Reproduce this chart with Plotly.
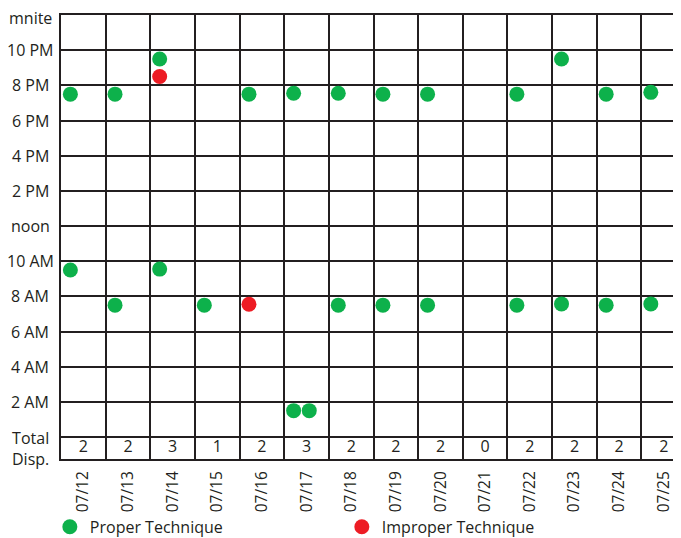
import plotly.graph_objects as go

# ---- data ----
dates = ["07/12", "07/13", "07/14", "07/15", "07/16", "07/17", "07/18",
         "07/19", "07/20", "07/21", "07/22", "07/23", "07/24", "07/25"]
totals = [2, 2, 3, 1, 2, 3, 2, 2, 2, 0, 2, 2, 2, 2]

# proper technique dispenses: date, time of day (hours), slot within day column
proper_dates = ["07/12", "07/12", "07/13", "07/13", "07/14", "07/14", "07/15",
                "07/16", "07/17", "07/17", "07/17", "07/18", "07/18", "07/19",
                "07/19", "07/20", "07/20", "07/22", "07/22", "07/23", "07/23",
                "07/24", "07/24", "07/25", "07/25"]
proper_times = [19.5, 9.5, 19.5, 7.5, 21.5, 9.55, 7.5,
                19.5, 19.55, 1.5, 1.5, 19.55, 7.5, 19.5,
                7.5, 19.5, 7.5, 19.5, 7.5, 21.5, 7.57,
                19.5, 7.5, 19.6, 7.57]
proper_slot = [0, 0, 0, 0, 0, 0, 0,
               0, 0, 0, 1, 0, 0, 0,
               0, 0, 0, 0, 0, 0, 0,
               0, 0, 0, 0]

improper_dates = ["07/14", "07/16"]
improper_times = [20.5, 7.55]
improper_slot = [0, 0]

y_tick_vals = [24, 22, 20, 18, 16, 14, 12, 10, 8, 6, 4, 2]
y_tick_text = ["mnite", "10 PM", "8 PM", "6 PM", "4 PM", "2 PM", "noon",
               "10 AM", "8 AM", "6 AM", "4 AM", "2 AM"]
total_label = "Total<br>Disp."

# ---- layout helpers ----
TOTAL_ROW = 1.25          # height of "Total Disp." row in axis units (below 0)
OFFSET0, OFFSET_STEP = 0.21, 0.35
GREEN, RED, INK = "#0db14b", "#ed1c24", "#231f20"
FONT = "Open Sans"
FS = 16
PAGE_PAD = 8              # default body margin of the html page

def xpos(ds, slots):
    return [dates.index(d) + OFFSET0 + OFFSET_STEP * s for d, s in zip(ds, slots)]

fig = go.Figure()
fig.add_trace(go.Scatter(
    x=xpos(proper_dates, proper_slot), y=proper_times, mode="markers",
    name="Proper Technique", marker=dict(color=GREEN, size=15, line=dict(width=0))))
fig.add_trace(go.Scatter(
    x=xpos(improper_dates, improper_slot), y=improper_times, mode="markers",
    name="Improper Technique", marker=dict(color=RED, size=15, line=dict(width=0))))
# totals row
fig.add_trace(go.Scatter(
    x=[i + 0.5 for i in range(len(dates))], y=[-TOTAL_ROW / 2] * len(dates),
    mode="text", text=[str(t) for t in totals], showlegend=False, hoverinfo="skip",
    textfont=dict(family=FONT, size=FS, color=INK)))

n = len(dates)
fig.update_xaxes(
    range=[0, 13.886],
    tickvals=[i + 0.5 for i in range(n)], ticktext=dates, tickangle=-90,
    tickfont=dict(family=FONT, size=15.5, color=INK), ticks="", showgrid=False,
    ticklabelstandoff=4, automargin=False,
    minor=dict(tickvals=list(range(n + 1)), showgrid=True, gridcolor=INK, gridwidth=2.4, ticks=""),
    showline=True, mirror=True, linecolor=INK, linewidth=2, zeroline=False)
fig.update_yaxes(
    range=[-TOTAL_ROW, 24], automargin=False,
    tickvals=[0] + sorted(v for v in y_tick_vals if v < 24), showticklabels=False,
    showgrid=True, gridcolor=INK, gridwidth=2, ticks="",
    showline=True, mirror=False, linecolor=INK, linewidth=2.4, zeroline=False)

for v, t in zip(y_tick_vals, y_tick_text):
    fig.add_annotation(x=0, y=v, xref="paper", yref="y", text=t, showarrow=False,
                       xanchor="center", yanchor="middle", xshift=-31,
                       yshift=-3 if v == 24 else 0, borderpad=0,
                       font=dict(family=FONT, size=FS, color=INK))
fig.add_annotation(x=0, y=-TOTAL_ROW / 2, xref="paper", yref="y", text=total_label,
                   showarrow=False, xanchor="center", yanchor="middle", xshift=-31,
                   font=dict(family=FONT, size=FS, color=INK))

fig.update_layout(
    width=681 - PAGE_PAD, height=538 - PAGE_PAD,
    margin=dict(l=61 - PAGE_PAD, r=0, t=15 - PAGE_PAD, b=79, autoexpand=False),
    plot_bgcolor="white", paper_bgcolor="white",
    legend=dict(orientation="h", x=-0.018, xanchor="left", y=-0.1145, yanchor="top",
                entrywidth=247, entrywidthmode="pixels", itemsizing="trace",
                bgcolor="rgba(0,0,0,0)",
                font=dict(family=FONT, size=FS, color=INK)),
    hovermode=False)

fig.write_html("out.html")
